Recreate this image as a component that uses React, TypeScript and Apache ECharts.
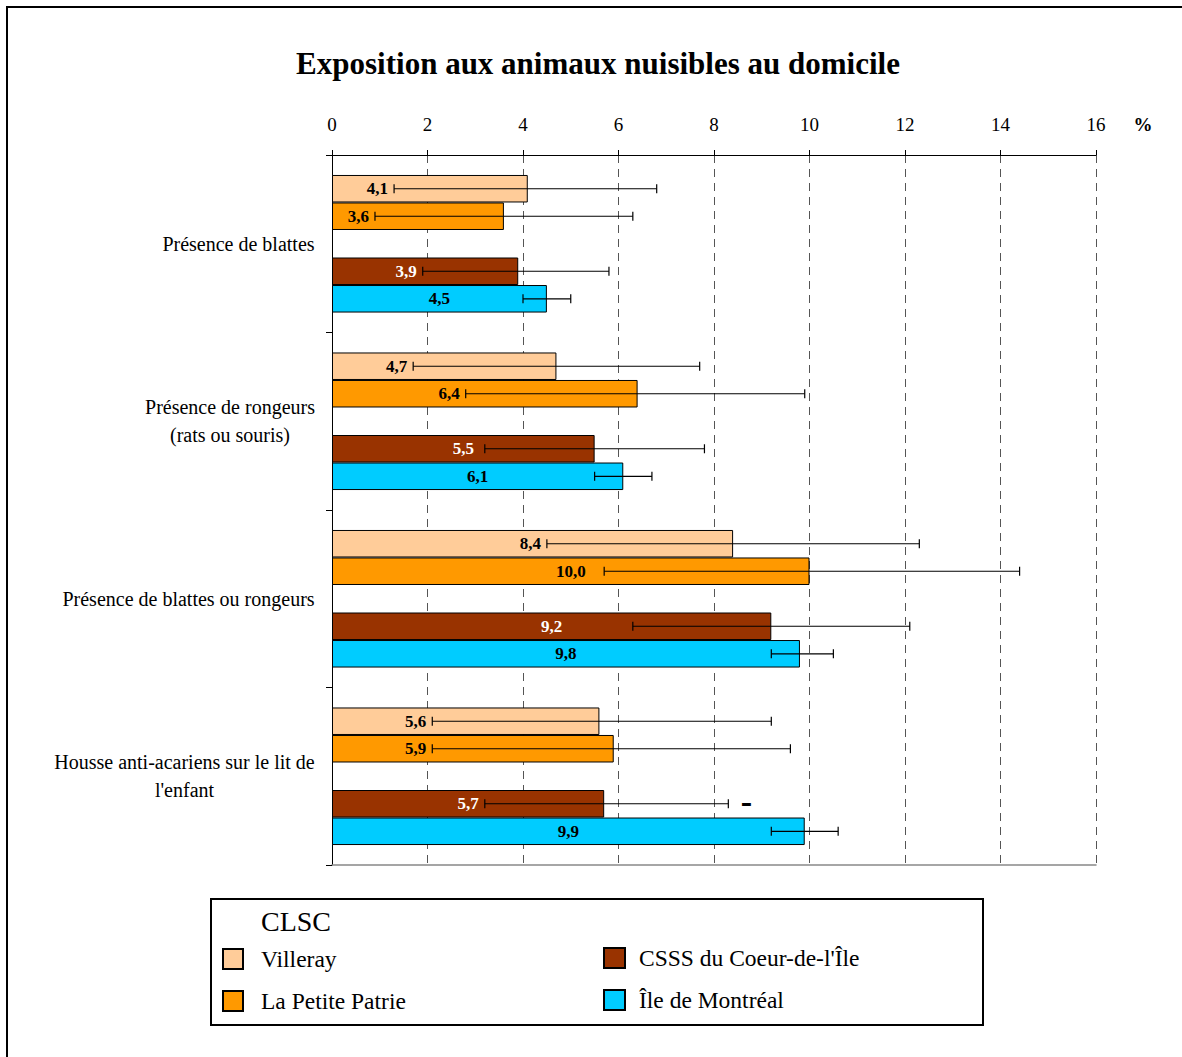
import React, { useEffect, useRef } from 'react';
import * as echarts from 'echarts';

const categories = [
  'Présence de blattes',
  'Présence de rongeurs\n(rats ou souris)',
  'Présence de blattes ou rongeurs',
  "Housse anti-acariens sur le lit de\nl'enfant",
];
const seriesNames = ['Villeray', 'La Petite Patrie', "CSSS du Coeur-de-l'Île", 'Île de Montréal'];
const seriesColors = ['#FFCC99', '#FF9900', '#993300', '#00CCFF'];
const labelColors = ['#000', '#000', '#fff', '#000'];

const villeray = [4.1, 4.7, 8.4, 5.6];
const villerayLow = [1.3, 1.7, 4.5, 2.1];
const villerayHigh = [6.8, 7.7, 12.3, 9.2];
const villeraySig = ['', '', '', ''];

const petitePatrie = [3.6, 6.4, 10.0, 5.9];
const petitePatrieLow = [0.9, 2.8, 5.7, 2.1];
const petitePatrieHigh = [6.3, 9.9, 14.4, 9.6];
const petitePatrieSig = ['', '', '', ''];

const csss = [3.9, 5.5, 9.2, 5.7];
const csssLow = [1.9, 3.2, 6.3, 3.2];
const csssHigh = [5.8, 7.8, 12.1, 8.3];
const csssSig = ['', '', '', '-'];

const montreal = [4.5, 6.1, 9.8, 9.9];
const montrealLow = [4.0, 5.5, 9.2, 9.2];
const montrealHigh = [5.0, 6.7, 10.5, 10.6];
const montrealSig = ['', '', '', ''];

const gapSlot = [null, null, null, null];

const xMin = 0;
const xMax = 16;
const xStep = 2;

const SERIF = '"Liberation Serif", "Times New Roman", serif';
const BAR_PCT = 15.5;

function measure(text: string, font: string): number {
  const c = document.createElement('canvas');
  const ctx = c.getContext('2d');
  if (!ctx) return text.length * 8;
  ctx.font = font;
  return ctx.measureText(text).width;
}

function fmt(v: number): string {
  return v.toFixed(1).replace('.', ',');
}

export default function App() {
  const ref = useRef<HTMLDivElement>(null);

  useEffect(() => {
    if (!ref.current) return;
    const chart = echarts.init(ref.current, null, { renderer: 'svg' });

    const values = [villeray, petitePatrie, csss, montreal];
    const lows = [villerayLow, petitePatrieLow, csssLow, montrealLow];
    const highs = [villerayHigh, petitePatrieHigh, csssHigh, montrealHigh];
    const sigs = [villeraySig, petitePatrieSig, csssSig, montrealSig];
    const slots = [0, 1, 3, 4];

    const items: any[] = [];
    const meta: any[] = [];
    values.forEach((arr, s) => {
      arr.forEach((v, c) => {
        items.push([v, c, slots[s], lows[s][c], highs[s][c], s]);
        meta.push({ s, c, sig: sigs[s][c] });
      });
    });

    const labelFont = `bold 17px ${SERIF}`;
    const catFont = `20px ${SERIF}`;
    const catWidths = categories.map((t) =>
      Math.ceil(Math.max(...t.split('\n').map((l) => measure(l, catFont)))) + 2
    );
    const rich: any = {};
    catWidths.forEach((w, i) => {
      rich['c' + i] = {
        width: w,
        align: 'center',
        fontFamily: SERIF,
        fontSize: 20,
        lineHeight: 28,
        color: '#000',
      };
    });

    const barSeries = [
      { name: seriesNames[0], data: villeray, color: seriesColors[0] },
      { name: seriesNames[1], data: petitePatrie, color: seriesColors[1] },
      { name: '_gap', data: gapSlot, color: 'transparent' },
      { name: seriesNames[2], data: csss, color: seriesColors[2] },
      { name: seriesNames[3], data: montreal, color: seriesColors[3] },
    ].map((d) => ({
      type: 'bar',
      name: d.name,
      data: d.data,
      xAxisIndex: 0,
      yAxisIndex: 0,
      barWidth: BAR_PCT + '%',
      barGap: '0%',
      silent: true,
      itemStyle: { color: d.color, borderColor: '#000', borderWidth: 1 },
    }));

    const legendText = { fontFamily: SERIF, fontSize: 23.5, color: '#000' };

    const option: any = {
      animation: false,
      backgroundColor: '#fff',
      title: {
        text: 'Exposition aux animaux nuisibles au domicile',
        left: 598,
        textAlign: 'center',
        top: 48,
        padding: 0,
        textStyle: { fontFamily: SERIF, fontSize: 31, fontWeight: 'bold', color: '#000' },
      },
      grid: { left: 332, right: 86, top: 155, bottom: 192, containLabel: false },
      xAxis: [
        {
          type: 'value',
          position: 'top',
          min: xMin,
          max: xMax,
          interval: xStep,
          axisLine: { show: true, lineStyle: { color: '#000', width: 1 } },
          axisTick: { show: true, length: 5, lineStyle: { color: '#000' } },
          axisLabel: { fontFamily: SERIF, fontSize: 19, color: '#000', margin: 21 },
          splitLine: { show: true, lineStyle: { color: '#555', type: [8, 6], width: 1 } },
        },
        {
          type: 'value',
          position: 'bottom',
          min: xMin,
          max: xMax,
          axisLine: { show: true, lineStyle: { color: '#888', width: 1.5 } },
          axisTick: { show: false },
          axisLabel: { show: false },
          splitLine: { show: false },
        },
      ],
      yAxis: {
        type: 'category',
        data: categories,
        inverse: true,
        axisLine: { show: true, lineStyle: { color: '#000', width: 1 } },
        axisTick: { show: true, length: 6, lineStyle: { color: '#000' } },
        axisLabel: {
          margin: 16,
          formatter: (val: string, idx: number) =>
            val.split('\n').map((l) => `{c${idx}|${l}}`).join('\n'),
          rich,
        },
        splitLine: { show: false },
      },
      legend: [
        {
          data: [seriesNames[0], seriesNames[1]],
          orient: 'vertical',
          left: 222,
          top: 947,
          padding: 0,
          itemWidth: 20,
          itemHeight: 20,
          itemGap: 18,
          icon: 'rect',
          selectedMode: false,
          textStyle: { ...legendText, padding: [3, 0, 0, 13] },
        },
        {
          data: [seriesNames[2], seriesNames[3]],
          orient: 'vertical',
          left: 603,
          top: 946,
          padding: 0,
          itemWidth: 21,
          itemHeight: 20,
          itemGap: 18,
          icon: 'rect',
          selectedMode: false,
          textStyle: { ...legendText, padding: [3, 0, 0, 9] },
        },
      ],
      graphic: [
        {
          type: 'rect',
          shape: { x: 7, y: 7, width: 1200, height: 1100 },
          style: { fill: 'none', stroke: '#000', lineWidth: 2 },
          silent: true,
        },
        {
          type: 'rect',
          shape: { x: 211, y: 899, width: 772, height: 126 },
          style: { fill: 'none', stroke: '#000', lineWidth: 2 },
          silent: true,
        },
        {
          type: 'text',
          x: 261,
          y: 921,
          style: { text: 'CLSC', font: `28px ${SERIF}`, fill: '#000', verticalAlign: 'middle', align: 'left' },
          silent: true,
        },
        {
          type: 'text',
          x: 1143,
          y: 124,
          style: { text: '%', font: `bold 19px ${SERIF}`, fill: '#000', verticalAlign: 'middle', align: 'center' },
          silent: true,
        },
      ],
      series: [
        ...barSeries,
        {
          type: 'custom',
          name: 'errors',
          xAxisIndex: 0,
          yAxisIndex: 0,
          silent: true,
          z: 10,
          encode: { x: 0, y: 1 },
          data: items,
          renderItem: (params: any, api: any) => {
            const v = api.value(0);
            const c = api.value(1);
            const slot = api.value(2);
            const lo = api.value(3);
            const hi = api.value(4);
            const m = meta[params.dataIndex];
            const bandH = api.size([0, 1])[1];
            const barW = (bandH * BAR_PCT) / 100;
            const base = api.coord([0, c]);
            const yMid = base[1] - 2.5 * barW + slot * barW + barW / 2;
            const x0 = base[0];
            const xv = api.coord([v, c])[0];
            const xlo = api.coord([lo, c])[0];
            const xhi = api.coord([hi, c])[0];
            const txt = fmt(v);
            const halfW = measure(txt, labelFont) / 2;
            let lx = Math.min((x0 + xv) / 2, xlo - 6 - halfW);
            lx = Math.max(lx, x0 + halfW + 2);
            const cap = 4.5;
            const stroke = { stroke: '#000', lineWidth: 1.2 };
            const children: any[] = [
              { type: 'line', shape: { x1: xlo, y1: yMid, x2: xhi, y2: yMid }, style: stroke },
              { type: 'line', shape: { x1: xlo, y1: yMid - cap, x2: xlo, y2: yMid + cap }, style: stroke },
              { type: 'line', shape: { x1: xhi, y1: yMid - cap, x2: xhi, y2: yMid + cap }, style: stroke },
              {
                type: 'text',
                x: lx,
                y: yMid,
                style: {
                  text: txt,
                  font: labelFont,
                  fill: labelColors[m.s],
                  align: 'center',
                  verticalAlign: 'middle',
                },
              },
            ];
            if (m.sig) {
              children.push({
                type: 'text',
                x: xhi + 18,
                y: yMid - 2,
                style: {
                  text: m.sig,
                  font: `900 34px ${SERIF}`,
                  fill: '#000',
                  align: 'center',
                  verticalAlign: 'middle',
                },
              });
            }
            return { type: 'group', children };
          },
        },
      ],
    };

    chart.setOption(option);
    return () => chart.dispose();
  }, []);

  return (
    <div
      ref={ref}
      style={{ position: 'absolute', left: 0, top: 0, width: 1182, height: 1057, background: '#fff' }}
    />
  );
}
